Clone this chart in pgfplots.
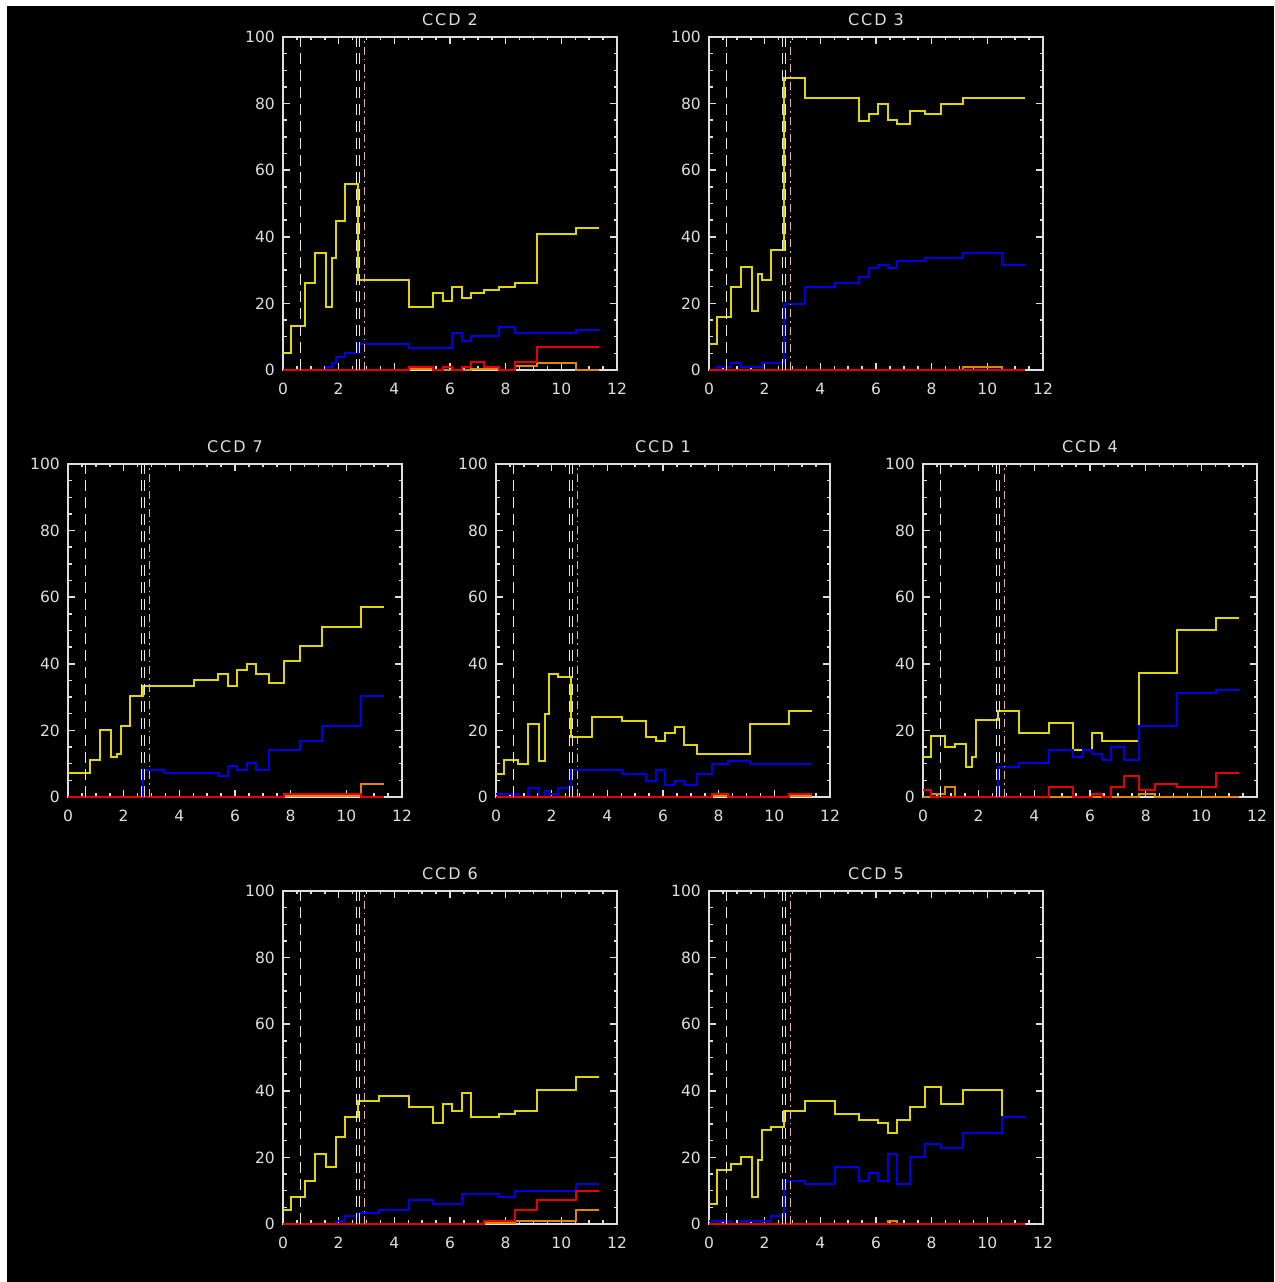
\documentclass[border=0pt]{standalone}
\usepackage{fontspec}
\setmainfont{DejaVu Sans}
\newfontfamily\titlefont[LetterSpace=12]{DejaVu Sans}
\usepackage{pgfplots}
\usepackage{pgfplotstable}
\pgfplotsset{compat=1.18}

\definecolor{cyel}{RGB}{225,215,0}
\definecolor{cblu}{RGB}{0,0,232}
\definecolor{cred}{RGB}{232,0,0}
\definecolor{corg}{RGB}{222,135,0}
\definecolor{cpink}{RGB}{230,176,176}
\definecolor{cwht}{RGB}{232,232,232}
\definecolor{caxis}{RGB}{222,222,222}

% bin edges (x) with fractions per bin: Y yellow, B blue, O orange, R red
\pgfplotstableread{
x     Y     B     O    R
0.00  5.0   0.0   0    0
0.30  13.2  0.0   0    0
0.79  26.0  0.0   0    0
1.15  35.2  0.0   0    0
1.53  18.8  0.8   0    0
1.76  33.6  2.0   0    0
1.89  44.7  3.8   0    0
2.22  55.8  5.0   0    0
2.68  27.0  7.7   0    0
3.44  27.0  7.7   0    0
4.51  18.8  6.7   0.3  1.0
5.40  23.1  6.7   0    0
5.74  20.7  6.7   0    1.0
6.08  25.0  11.0  0    0
6.43  21.6  8.7   0    1.0
6.77  23.1  10.2  0.3  2.4
7.23  24.0  10.2  0.3  1.0
7.76  25.0  13.0  0    0
8.34  26.0  11.0  1.2  2.4
9.12  40.8  11.0  2.0  6.8
10.52 42.7  12.0  0    6.8
11.37 42.7  12.0  0    6.8
}\ccdtwo

\pgfplotstableread{
x     Y     B     O    R
0.00  7.8   0.0   0    0
0.30  16.0  1.0   0    0
0.79  25.0  2.0   0    0
1.15  30.8  1.0   0    0
1.53  17.7  1.0   0    0
1.76  28.8  1.0   0    0
1.89  27.0  2.0   0    0
2.22  36.0  2.0   0    0
2.68  87.8  19.8  0    0
3.44  81.6  25.0  0    0
4.51  81.6  26.0  0    0
5.40  74.8  27.8  0    0
5.74  76.8  30.6  0    0
6.08  79.8  31.6  0    0
6.43  75.0  30.6  0    0
6.77  74.0  32.8  0    0
7.23  77.8  32.8  0    0
7.76  76.8  33.6  0    0
8.34  79.8  33.6  0    0
9.12  81.6  35.0  1.0  0
10.52 81.6  31.6  0    0
11.37 81.6  31.6  0    0
}\ccdthree

\pgfplotstableread{
x     Y     B     O    R
0.00  7.2   0.0   0    0
0.30  7.2   0.0   0    0
0.79  11.2  0.0   0    0
1.15  20.2  0.0   0    0
1.53  11.9  0.0   0    0
1.76  13.0  0.0   0    0
1.89  21.2  0.0   0    0
2.22  30.4  0.0   0    0
2.68  33.2  8.2   0    0
3.44  33.2  7.2   0    0
4.51  35.2  7.2   0    0
5.40  37.0  6.2   0    0
5.74  33.2  9.2   0    0
6.08  38.0  8.2   0    0
6.43  40.0  10.2  0    0
6.77  37.0  8.2   0    0
7.23  34.2  14.0  0    0
7.76  40.9  14.0  0.3  1.0
8.34  45.2  16.9  0.3  1.0
9.12  50.9  21.2  0.3  1.0
10.52 57.1  30.4  3.9  0
11.37 57.1  30.4  3.9  0
}\ccdseven

\pgfplotstableread{
x     Y     B     O    R
0.00  7.0   0.8   0    0
0.30  11.0  0.8   0    0
0.79  10.0  0.0   0    0
1.15  22.0  2.7   0    0
1.53  10.8  0.0   0    0
1.76  24.9  1.8   0    0
1.89  36.9  0.8   0    0
2.22  36.0  2.7   0    0
2.68  18.0  8.0   0    0
3.44  23.9  8.0   0    0
4.51  22.9  7.0   0    0
5.40  18.0  4.7   0    0
5.74  16.7  8.0   0    0
6.08  19.1  3.7   0    0
6.43  21.0  4.7   0    0
6.77  15.7  3.7   0    0
7.23  13.0  7.0   0    0
7.76  13.0  10.0  0.3  0.8
8.34  13.0  10.8  0    0
9.12  22.0  10.0  0    0
10.52 25.8  10.0  0.3  0.8
11.37 25.8  10.0  0.3  0.8
}\ccdone

\pgfplotstableread{
x     Y     B     O    R
0.00  12.0  0.0   0    2.0
0.30  18.2  0.0   1.0  0
0.79  14.9  0.0   2.9  0
1.15  15.9  0.0   0    0
1.53  9.1   0.0   0    0
1.76  12.0  0.0   0    0
1.89  23.1  0.0   0    0
2.22  23.1  0.0   0    0
2.68  25.9  9.1   0    0
3.44  19.2  10.2  0    0
4.51  22.2  14.0  0    2.9
5.40  14.0  12.0  0    0
5.74  14.0  14.0  0    0
6.08  19.3  13.0  0    1.0
6.43  16.9  11.0  0    0
6.77  16.9  14.9  0    2.9
7.23  16.9  11.0  0    6.2
7.76  37.1  21.2  1.0  2.0
8.34  37.1  21.2  0    3.9
9.12  50.0  31.2  0    2.9
10.52 53.8  32.2  0    7.2
11.37 53.8  32.2  0    7.2
}\ccdfour

\pgfplotstableread{
x     Y     B     O    R
0.00  4.2   0.0   0    0
0.30  8.0   0.0   0    0
0.79  12.9  0.0   0    0
1.15  21.0  0.0   0    0
1.53  17.1  0.0   0    0
1.76  17.1  0.0   0    0
1.89  26.2  0.9   0    0
2.22  32.0  2.4   0    0
2.68  36.9  3.2   0    0
3.44  38.4  4.2   0    0
4.51  35.0  7.1   0    0
5.40  30.2  6.1   0    0
5.74  36.0  6.1   0    0
6.08  34.0  6.1   0    0
6.43  39.4  9.0   0    0
6.77  32.0  9.0   0    0
7.23  32.0  9.0   0.3  0.9
7.76  33.0  8.0   0.3  0.9
8.34  34.0  10.0  0.9  4.2
9.12  40.2  10.0  0.9  7.1
10.52 44.1  11.9  4.2  10.0
11.37 44.1  11.9  4.2  10.0
}\ccdsix

\pgfplotstableread{
x     Y     B     O    R
0.00  6.1   0.9   0    0
0.30  16.2  0.9   0    0
0.79  18.1  0.0   0    0
1.15  20.0  0.9   0    0
1.53  8.0   0.9   0    0
1.76  19.1  0.9   0    0
1.89  28.1  0.9   0    0
2.22  29.1  2.4   0    0
2.68  34.0  12.9  0    0
3.44  36.9  11.9  0    0
4.51  33.0  17.1  0    0
5.40  31.1  12.9  0    0
5.74  31.1  15.2  0    0
6.08  30.2  12.9  0    0
6.43  27.2  21.0  1.0  0
6.77  31.1  11.9  0    0
7.23  35.0  20.0  0    0
7.76  41.2  23.9  0    0
8.34  36.0  22.9  0    0
9.12  40.2  27.2  0    0
10.52 32.2  32.2  0    0
11.37 32.2  32.2  0    0
}\ccdfive

\pgfplotsset{
  ccd/.style={
    scale only axis, width=334pt, height=333pt,
    anchor=south west,
    xmin=0, xmax=12, ymin=0, ymax=100,
    xtick={0,2,...,12}, ytick={0,20,...,100},
    minor x tick num=3, minor y tick num=3,
    xtick pos=both, ytick pos=both,
    tick align=inside,
    major tick length=7pt, minor tick length=3.5pt,
    axis line style={caxis, line width=1.5pt},
    every tick/.style={caxis, line width=1.5pt},
    clip=false,
    /pgf/number format/assume math mode=true,
    ticklabel style={font=\fontsize{15.5}{17}\selectfont, text=caxis},
    xticklabel style={anchor=center, yshift=-19pt},
    yticklabel style={anchor=east, inner sep=0pt, xshift=-8pt},
    title style={at={(0.5,1)}, anchor=center, yshift=11pt,
      font=\titlefont\fontsize{16}{18}\selectfont, text=caxis},
  },
  yel/.style={cyel, line width=2pt, const plot},
  blu/.style={cblu, line width=2pt, const plot},
  org/.style={corg, line width=2pt, const plot},
  rd/.style={cred, line width=2pt, const plot},
  wdash/.style={cwht, line width=1.4pt, dash pattern=on 11pt off 6pt, sharp plot},
  pdash/.style={cpink, line width=1.4pt, dash pattern=on 8pt off 4pt on 1.5pt off 4pt, sharp plot},
}

% one panel: table, position, title
\newcommand{\ccdpanel}[4]{%
  \begin{axis}[ccd, at={(#2,#3)}, title={#4}]
    \addplot[yel] table[x=x, y=Y] {#1};
    \addplot[blu] table[x=x, y=B] {#1};
    \addplot[org] table[x=x, y=O] {#1};
    \addplot[rd]  table[x=x, y=R] {#1};
    \addplot[wdash] coordinates {(0.62,0) (0.62,100)};
    \addplot[wdash] coordinates {(2.63,0) (2.63,100)};
    \addplot[wdash] coordinates {(2.74,0) (2.74,100)};
    \addplot[pdash] coordinates {(2.92,0) (2.92,100)};
  \end{axis}%
}

\begin{document}
\begin{tikzpicture}[x=1pt, y=1pt]
  \fill[white] (0,0) rectangle (1274,1282);
  \fill[black] (7,0) rectangle (1274,1276);
  \ccdpanel{\ccdtwo}{283pt}{912pt}{CCD 2}
  \ccdpanel{\ccdthree}{709pt}{912pt}{CCD 3}
  \ccdpanel{\ccdseven}{68pt}{485pt}{CCD 7}
  \ccdpanel{\ccdone}{496pt}{485pt}{CCD 1}
  \ccdpanel{\ccdfour}{923pt}{485pt}{CCD 4}
  \ccdpanel{\ccdsix}{283pt}{58pt}{CCD 6}
  \ccdpanel{\ccdfive}{709pt}{58pt}{CCD 5}
\end{tikzpicture}
\end{document}
